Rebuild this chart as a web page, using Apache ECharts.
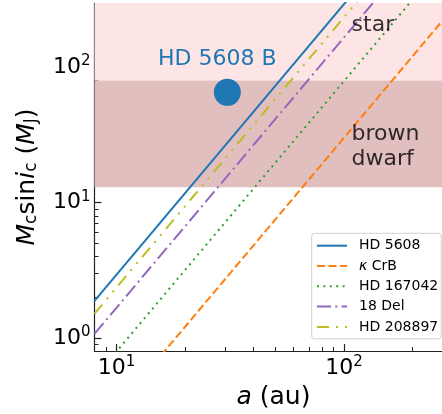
<!DOCTYPE html>
<html><head><meta charset="utf-8">
<script src="https://cdn.jsdelivr.net/npm/echarts@6/dist/echarts.min.js"></script>
<style>html,body{margin:0;padding:0;background:#fff}#c{width:442px;height:414px}</style>
</head><body><div id="c"></div>
<script>
// ---- data ----
const seriesNames = ['HD 5608', 'κ CrB', 'HD 167042', '18 Del', 'HD 208897'];
const lineA = [8, 300];                 // au, endpoints of each limit line
const massHD5608 = [1.88, 2650];
const massKapCrB = [0.193, 272];
const massHD167042 = [0.508, 714];
const mass18Del = [1.07, 1500];
const massHD208897 = [1.51, 2110];
const companionA = [30.7];
const companionM = [65.5];
const companionName = ['HD 5608 B'];
const regionText = ['star', 'brown\ndwarf'];
const regionTextA = [108, 108];
const regionTextM = [206, 26.1];
const starRange = [80, 300];
const bdRange = [13, 80];
const xMajor = [10, 100];
const yMajor = [1, 10, 100];
const xMinor = [8, 9, 20, 30, 40, 50, 60, 70, 80, 90, 200, 300];
const yMinor = [0.8, 0.9, 2, 3, 4, 5, 6, 7, 8, 9, 20, 30, 40, 50, 60, 70, 80, 90, 200, 300];
const xRange = [8, 300];
const yRange = [0.8, 300];

// ---- styles ----
const colors = ['#1f77b4', '#ff7f0e', '#2ca02c', '#9467bd', '#bcbd22'];
const dashes = ['solid', [8, 3.5], [2, 4.4], [14, 4.3, 2, 4.3], [12, 7, 2, 7, 2, 7]];
const massArrays = [massHD5608, massKapCrB, massHD167042, mass18Del, massHD208897];
const FONT = 'DejaVu Sans';
const AX = '#222';

const gridRect = {left: 94.5, top: 3, width: 358, height: 348, containLabel: false, outerBoundsMode: 'none'};

function powLabel(v) {
  const e = Math.round(Math.log10(v));
  return '{b|10}{s|' + e + '}';
}
const powRich = {
  b: {fontFamily: FONT, fontSize: 22, color: '#000'},
  s: {fontFamily: FONT, fontSize: 15, color: '#000', padding: [0, 0, 12, 0]}
};

const series = [];
// shaded regions
series.push({
  type: 'line', xAxisIndex: 0, yAxisIndex: 0, data: [], silent: true, z: 1,
  markArea: {
    silent: true,
    data: [
      [{yAxis: starRange[0], itemStyle: {color: '#fee5e5'}}, {yAxis: starRange[1]}],
      [{yAxis: bdRange[0], itemStyle: {color: '#e2bfbf'}}, {yAxis: bdRange[1]}]
    ]
  }
});
seriesNames.forEach((n, i) => {
  series.push({
    name: n, type: 'line', xAxisIndex: 0, yAxisIndex: 0, symbol: 'none', z: 3,
    data: lineA.map((a, k) => [a, massArrays[i][k]]),
    lineStyle: {color: colors[i], width: 2, type: dashes[i], cap: 'butt'},
    itemStyle: {color: colors[i]}
  });
});
series.push({
  type: 'scatter', xAxisIndex: 0, yAxisIndex: 0, z: 4,
  data: companionA.map((a, k) => [a, companionM[k]]),
  symbolSize: 27, itemStyle: {color: '#1f77b4', opacity: 1},
  label: {show: true, position: 'top', distance: 9, offset: [-10, 0],
    formatter: (p) => companionName[p.dataIndex],
    fontFamily: FONT, fontSize: 22, color: '#1f77b4'}
});
series.push({
  type: 'scatter', xAxisIndex: 0, yAxisIndex: 0, z: 5, symbolSize: 0,
  data: regionTextA.map((a, k) => [a, regionTextM[k]]),
  label: {show: true, position: 'right', distance: 0, align: 'left',
    formatter: (p) => regionText[p.dataIndex],
    fontFamily: FONT, fontSize: 22, lineHeight: 25, color: '#000'}
});

const option = {
  animation: false,
  backgroundColor: '#fff',
  grid: [Object.assign({}, gridRect), Object.assign({}, gridRect)],
  legend: {
    data: seriesNames, orient: 'vertical', left: 311.7, top: 233.3,
    itemWidth: 30, itemHeight: 14, itemGap: 6.3,
    padding: [5.4, 3, 5, 4.3],
    backgroundColor: 'rgba(255,255,255,0.8)', borderColor: '#d0d0d0', borderWidth: 1, borderRadius: 3,
    itemStyle: {opacity: 0},
    formatter: (n) => n.charAt(0) === 'κ' ? '{k|κ}' + n.slice(1) : n,
    textStyle: {fontFamily: FONT, fontSize: 14, color: '#000', padding: [0, 0, 0, 7],
      rich: {k: {fontFamily: FONT, fontSize: 14, fontStyle: 'italic', color: '#000'}}}
  },
  xAxis: [
    {gridIndex: 0, type: 'log', min: xRange[0], max: xRange[1], position: 'bottom',
     axisLine: {show: true, lineStyle: {color: AX, width: 1.2}},
     axisTick: {show: true, inside: true, length: 7, customValues: xMajor, lineStyle: {color: AX, width: 1.2}},
     axisLabel: {show: true, customValues: xMajor, margin: 4, formatter: powLabel, rich: powRich},
     splitLine: {show: false}, minorTick: {show: false},
     name: '{i|a} (au)', nameLocation: 'middle', nameGap: 34,
     nameTextStyle: {fontFamily: FONT, fontSize: 25, color: '#000',
       rich: {i: {fontFamily: FONT, fontSize: 25, fontStyle: 'italic', color: '#000'}}}},
    {gridIndex: 0, type: 'log', min: xRange[0], max: xRange[1], position: 'top',
     axisLine: {show: true, lineStyle: {color: AX, width: 1.2}},
     axisTick: {show: false}, axisLabel: {show: false}, splitLine: {show: false}},
    {gridIndex: 1, type: 'log', min: xRange[0], max: xRange[1], position: 'bottom',
     axisLine: {show: false},
     axisTick: {show: true, inside: true, length: 4, customValues: xMinor, lineStyle: {color: AX, width: 1}},
     axisLabel: {show: false}, splitLine: {show: false}}
  ],
  yAxis: [
    {gridIndex: 0, type: 'log', min: yRange[0], max: yRange[1], position: 'left',
     axisLine: {show: true, lineStyle: {color: AX, width: 1.2}},
     axisTick: {show: true, inside: true, length: 7, customValues: yMajor, lineStyle: {color: AX, width: 1.2}},
     axisLabel: {show: true, customValues: yMajor, margin: 4, formatter: powLabel, rich: powRich},
     splitLine: {show: false},
     name: '{i|M}{sub|c}sin{i|i}{sub|c} ({i|M}{sub|J})', nameLocation: 'middle', nameGap: 54, nameRotate: 90,
     nameTextStyle: {fontFamily: FONT, fontSize: 25, color: '#000',
       rich: {
         i: {fontFamily: FONT, fontSize: 25, fontStyle: 'italic', color: '#000'},
         sub: {fontFamily: FONT, fontSize: 17, color: '#000', padding: [10, 0, 0, 0]}
       }}},
    {gridIndex: 1, type: 'log', min: yRange[0], max: yRange[1], position: 'left',
     axisLine: {show: false},
     axisTick: {show: true, inside: true, length: 4, customValues: yMinor, lineStyle: {color: AX, width: 1}},
     axisLabel: {show: false}, splitLine: {show: false}}
  ],
  series: series
};
const chart = echarts.init(document.getElementById('c'), null, {renderer: 'canvas'});
chart.setOption(option);
</script></body></html>
